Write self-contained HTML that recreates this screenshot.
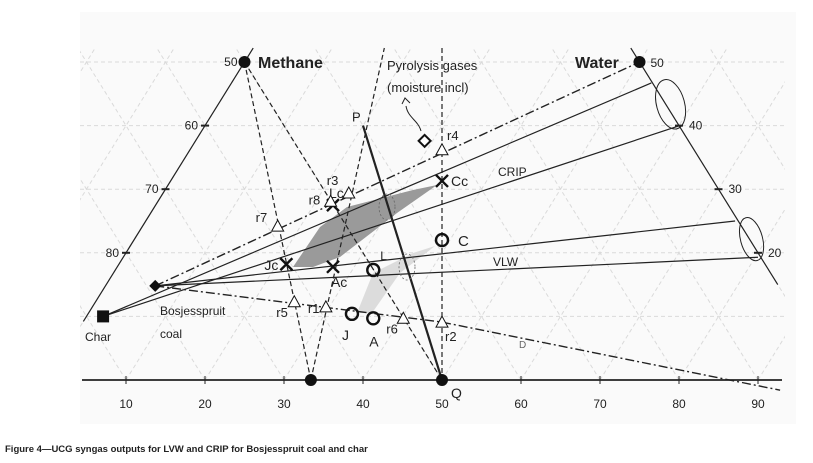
<!DOCTYPE html>
<html><head><meta charset="utf-8"><style>
html,body{margin:0;padding:0;background:#fff;}
svg{display:block;font-family:"Liberation Sans",sans-serif;}
</style></head><body>
<svg id="chart" width="813" height="463" viewBox="0 0 813 463" xmlns="http://www.w3.org/2000/svg">
<rect x="80" y="12" width="716" height="412" fill="#fafafa"/>
<defs><clipPath id="pc"><rect x="80" y="48" width="705" height="332"/></clipPath></defs>
<g id="grid" clip-path="url(#pc)"></g>
<g id="marks"></g>
<text x="5" y="452" font-size="9.5" font-weight="bold" fill="#222">Figure 4—UCG syngas outputs for LVW and CRIP for Bosjesspruit coal and char</text>
</svg>
<script>
// data in chart units: u = horizontal value (bottom axis), w = level above baseline (50 = top row)
const xTicks = [10,20,30,40,50,60,70,80,90];
const leftTicks = [[25,50,'50'],[20,40,'60'],[15,30,'70'],[10,20,'80']];
const rightTicks = [[75,50,'50'],[80,40,'40'],[85,30,'30'],[90,20,'20']];
const apexPoints = [['methane',25,50],['water',75,50],['base-point',33.4,0],['q-point',50,0]];
const crossPoints = [['Cc',50,31.3],['Lc',36.2,27.5],['Jc',30.3,18.2],['Ac',36.2,17.8]];
const circlePoints = [['C',50,22],['L',41.3,17.3],['J',38.6,10.4],['A',41.3,9.7]];
const runPoints = [['r4',50,36.2],['r3',38.2,29.4],['r8',35.9,28.1],['r7',29.2,24.2],['r5',31.3,12.3],['r1',35.3,11.5],['r6',45.1,9.7],['r2',50,9.1]];
const charPt = [7.1,10];
const coalPt = [13.7,14.8];
const pyroPt = [47.8,37.6];
const pPt = [40,40];
const cripEnds = [[76.5,46.7],[80.1,40]];
const vlwEnds = [[87.1,25],[90,19.3]];

const X = u => 126 + (u-10)*7.9;
const Y = w => 380 - w*6.36;
const NS='http://www.w3.org/2000/svg';
const grid=document.getElementById('grid'), marks=document.getElementById('marks');
function mk(tag,attrs,parent){const e=document.createElementNS(NS,tag);for(const k in attrs)e.setAttribute(k,attrs[k]);(parent||marks).appendChild(e);return e;}
function line(a,b,st,name,parent){const e=mk('line',Object.assign({x1:X(a[0]),y1:Y(a[1]),x2:X(b[0]),y2:Y(b[1]),stroke:'#222','stroke-width':1.2,fill:'none'},st),parent);


return e;}
function txt(x,y,s,size,name,extra){const e=mk('text',Object.assign({x:x,y:y,'font-size':size,fill:'#222'},extra||{}));e.textContent=s;


return e;}

// grid
for(let w=10;w<=50;w+=10){const g=line([0,w],[100,w],{stroke:'#dadada','stroke-dasharray':'4,3','stroke-width':1},'grid-row',grid);g.setAttribute('x1',80);g.setAttribute('x2',800);}
for(let k=-60;k<=150;k+=10){
 line([k,0],[k+30,60],{stroke:'#dadada','stroke-dasharray':'4,3','stroke-width':1},'grid-diagonal',grid);
 line([k,0],[k-30,60],{stroke:'#dadada','stroke-dasharray':'4,3','stroke-width':1},'grid-diagonal',grid);
}
// shaded regions
const dark=mk('polygon',{points:'293,267 320,227 347,207 413,190 437,185 397,213 340,257 313,267',fill:'#9a9a9a'});


const light=mk('polygon',{points:'357,313 373,273 413,253 435,246 400,273 372,313',fill:'#dcdcdc'});



// axes
const ax=mk('line',{x1:82,y1:380,x2:782,y2:380,stroke:'#222','stroke-width':1.8});


xTicks.forEach(t=>{const tk=mk('line',{x1:X(t),y1:376,x2:X(t),y2:384,stroke:'#222','stroke-width':1});


txt(X(t),408,String(t),12,'x-tick-label',{'text-anchor':'middle'});});
line([26.1,52.2],[4.6,9.2],{},'left-edge');
line([73.9,52.2],[92.5,15],{},'right-edge');
leftTicks.forEach(t=>{const tk=mk('line',{x1:X(t[0])-4,y1:Y(t[1]),x2:X(t[0])+4,y2:Y(t[1]),stroke:'#222','stroke-width':2});


txt(X(t[0])-7,Y(t[1])+4,t[2],12,'left-tick-label',{'text-anchor':'end'});});
rightTicks.forEach(t=>{const tk=mk('line',{x1:X(t[0])-4,y1:Y(t[1]),x2:X(t[0])+4,y2:Y(t[1]),stroke:'#222','stroke-width':2});


if(t[2]!=='50')txt(X(t[0])+10,Y(t[1])+4,t[2],12,'right-tick-label');});
txt(X(75)+11,Y(50)+5,'50',12,'right-tick-label');

// dashed construction lines
const M=[25,50],W=[75,50],B=[33.4,0],Q=[50,0];
const dsh={'stroke-dasharray':'5,3','stroke-width':1.2};
line(M,B,dsh,'methane-base-line');
line(M,Q,dsh,'methane-q-line');
line(B,[42.7,52.2],dsh,'base-upward-line');
line([50,52.2],Q,dsh,'vertical-50-line');
// dash-dot
const dd={'stroke-dasharray':'9,3,2,3','stroke-width':1.4};
line(coalPt,W,dd,'upper-dashdot-line');
line(coalPt,[50,9.1],dd,'lower-dashdot-line');
line([50,9.1],[92.8,-1.6],dd,'lower-dashdot-extension');
// P-Q
line(pPt,Q,{'stroke-width':2.2},'p-q-line');
// CRIP / VLW fan lines
line(charPt,cripEnds[0],{},'crip-upper-line');
line(charPt,cripEnds[1],{},'crip-lower-line');
line(coalPt,vlwEnds[0],{},'vlw-upper-line');
line(coalPt,vlwEnds[1],{},'vlw-lower-line');
// ellipses
[[cripEnds,'crip-ellipse',14],[vlwEnds,'vlw-ellipse',11]].forEach(e=>{const a=e[0];const cx=(X(a[0][0])+X(a[1][0]))/2+5,cy=(Y(a[0][1])+Y(a[1][1]))/2,ry=Math.abs(Y(a[0][1])-Y(a[1][1]))/2+4;
const el=mk('ellipse',{cx:cx,cy:cy,rx:e[2],ry:ry,fill:'none',stroke:'#222','stroke-width':1,transform:`rotate(-15 ${cx} ${cy})`});

});
[[387,207],[407,267]].forEach(p=>{const el=mk('ellipse',{cx:p[0],cy:p[1],rx:8,ry:13,fill:'none',stroke:'#666','stroke-width':0.8,'stroke-dasharray':'2,2'});

});

// apex points
apexPoints.forEach(p=>{const c=mk('circle',{cx:X(p[1]),cy:Y(p[2]),r:6,fill:'#111'});

});
// crosses
crossPoints.forEach(p=>{const x=X(p[1]),y=Y(p[2]);const g=mk('path',{d:`M${x-6} ${y-6}L${x+6} ${y+6}M${x+6} ${y-6}L${x-6} ${y+6}`,stroke:'#111','stroke-width':2.4});

});
txt(X(50)+9,Y(31.3)+5,'Cc',14,'label-Cc');
txt(X(36.2)-4,Y(27.5)-7,'Lc',14,'label-Lc');
txt(X(30.3)-22,Y(18.2)+6,'Jc',14,'label-Jc');
txt(X(36.2)-2,Y(17.8)+20,'Ac',14,'label-Ac');
// circles
circlePoints.forEach(p=>{const c=mk('circle',{cx:X(p[1]),cy:Y(p[2]),r:6,fill:'none',stroke:'#111','stroke-width':2.4});

});
txt(X(50)+16,Y(22)+6,'C',15,'label-C');
txt(X(41.3)+7,Y(17.3)-10,'L',12,'label-L');
txt(X(38.6)-10,Y(10.4)+26,'J',14,'label-J');
txt(X(41.3)-4,Y(9.7)+28,'A',14,'label-A');
// triangles
runPoints.forEach(p=>{const x=X(p[1]),y=Y(p[2]);const t=mk('polygon',{points:`${x},${y-6} ${x-6},${y+5} ${x+6},${y+5}`,fill:'#fff',stroke:'#111','stroke-width':1});

});
const rl={r4:[5,-10],r3:[-22,-8],r8:[-22,3],r7:[-22,-4],r5:[-18,15],r1:[-18,6],r6:[-17,15],r2:[3,19]};
runPoints.forEach(p=>txt(X(p[1])+rl[p[0]][0],Y(p[2])+rl[p[0]][1],p[0],13,'label-'+p[0]));
// char, coal, pyro
const sq=mk('rect',{x:X(charPt[0])-6,y:Y(charPt[1])-6,width:12,height:12,fill:'#111'});


const cx0=X(coalPt[0]),cy0=Y(coalPt[1]);
const dm=mk('polygon',{points:`${cx0-6},${cy0} ${cx0},${cy0-6} ${cx0+6},${cy0} ${cx0},${cy0+6}`,fill:'#111'});


const px0=X(pyroPt[0]),py0=Y(pyroPt[1]);
const pd=mk('polygon',{points:`${px0-6},${py0} ${px0},${py0-6} ${px0+6},${py0} ${px0},${py0+6}`,fill:'#fff',stroke:'#111','stroke-width':2});


const ar=mk('path',{d:'M421 131 C 418 120, 408 118, 406 106 M402 104 L405 98 L410 103',fill:'none',stroke:'#222','stroke-width':1});


// labels
txt(258,68,'Methane',16,'methane-label',{'font-weight':'bold'});
txt(575,68,'Water',16,'water-label',{'font-weight':'bold'});
txt(387,70,'Pyrolysis gases',13,'pyrolysis-label');
txt(387,92,'(moisture incl)',13,'pyrolysis-label-2');
txt(X(40)-11,Y(40)-4,'P',13,'label-P');
txt(X(50)+9,Y(0)+18,'Q',14,'label-Q');
txt(498,176,'CRIP',12,'crip-label');
txt(493,266,'VLW',12,'vlw-label');
txt(85,341,'Char',12,'char-label');
txt(160,315,'Bosjesspruit',12,'coal-label');
txt(160,338,'coal',12,'coal-label-2');
txt(519,348,'D',10,'label-D',{fill:'#666'});
</script>
</body></html>
